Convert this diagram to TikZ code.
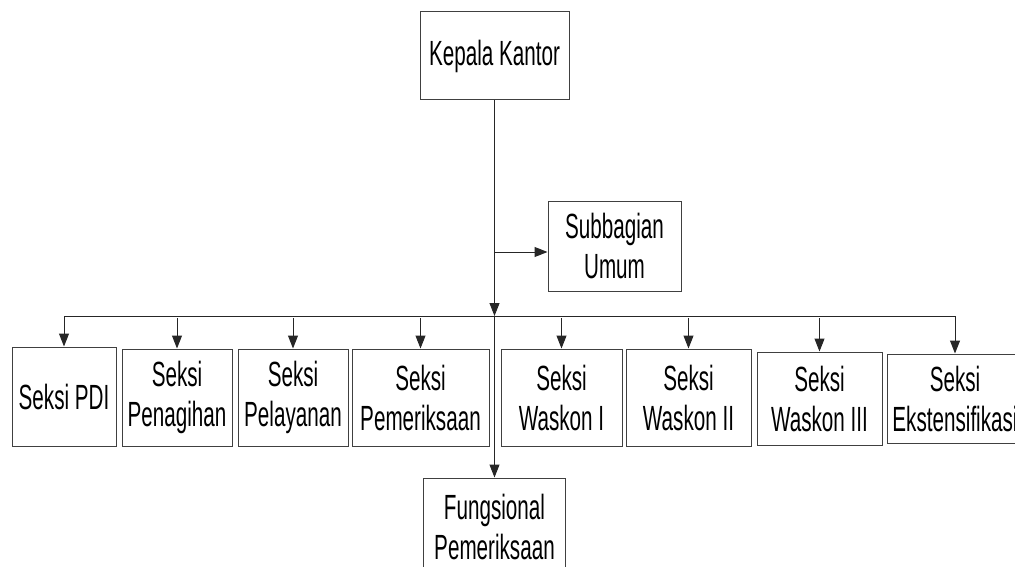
\documentclass[tikz,border=0pt]{standalone}
\usepackage{fontspec}
\setmainfont[FakeStretch=0.59]{Liberation Sans}
\usetikzlibrary{arrows.meta}
\begin{document}
\begin{tikzpicture}[x=1pt,y=-1pt,
  box/.style={draw=black!75,line width=1pt,inner sep=0pt,align=center,
    font=\fontsize{35}{40}\selectfont},
  conn/.style={draw=black!85,line width=1pt},
  arr/.style={conn,-{Triangle[length=13pt,width=10pt]}}]
\useasboundingbox (0,0) rectangle (1015,567);
\clip (0,0) rectangle (1015,567);
\node[box,minimum width=149pt,minimum height=88pt] (kk) at (494.5,56) {Kepala Kantor};
\node[box,minimum width=133pt,minimum height=90pt] (sub) at (614.5,246) {Subbagian\\Umum};
\node[box,minimum width=104pt,minimum height=99pt] (pdi) at (64,396.5) {Seksi PDI};
\node[box,minimum width=110pt,minimum height=97pt] (pen) at (177,397.5) {Seksi\\Penagihan};
\node[box,minimum width=110pt,minimum height=97pt] (pel) at (293,397.5) {Seksi\\Pelayanan};
\node[box,minimum width=137pt,minimum height=97pt] (pem) at (420.5,397.5) {Seksi\\Pemeriksaan};
\node[box,minimum width=121pt,minimum height=97pt] (w1) at (561.5,397.5) {Seksi\\Waskon I};
\node[box,minimum width=125pt,minimum height=97pt] (w2) at (688.5,397.5) {Seksi\\Waskon II};
\node[box,minimum width=125pt,minimum height=93pt] (w3) at (819.5,398.5) {Seksi\\Waskon III};
\node[box,minimum width=136pt,minimum height=89pt] (eks) at (955,398.5) {Seksi\\Ekstensifikasi};
\node[box,minimum width=142pt,minimum height=98pt] (fun) at (494.5,527) {Fungsional\\Pemeriksaan};
\coordinate (sb) at (494.5,252);
\coordinate (jc) at (494.5,316);
\draw[arr] (kk.south) -- (jc);
\draw[arr] (jc) -- (fun.north);
\draw[arr] (sb) -- (sb -| sub.west);
\draw[arr] (jc) -| (pdi.north);
\draw[arr] (jc) -| (eks.north);
\foreach \n in {pen,pel,pem,w1,w2,w3}{
  \draw[arr] (\n.north |- jc) ++(0,2) -- (\n.north);
}
\end{tikzpicture}
\end{document}
